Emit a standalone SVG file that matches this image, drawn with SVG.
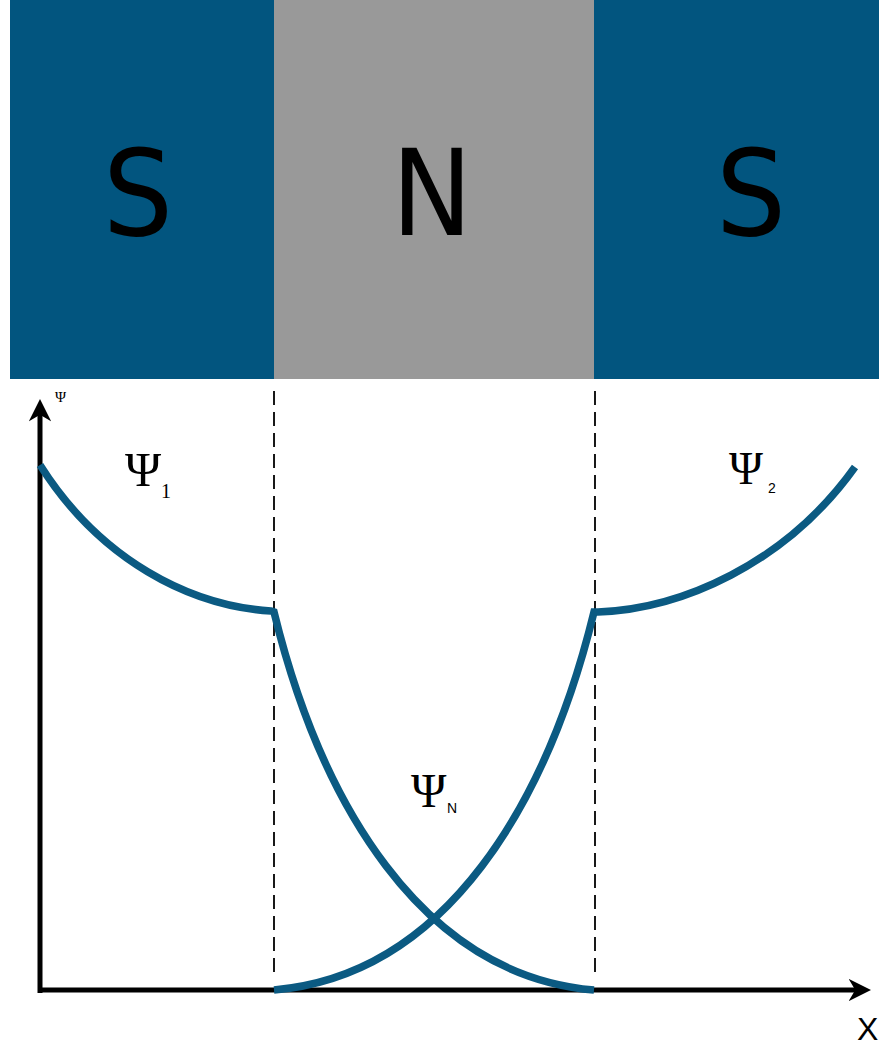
<svg xmlns="http://www.w3.org/2000/svg" width="879" height="1046" viewBox="0 0 879 1046">
<defs>
<style>
.sc{fill:#02557f}
.nm{fill:#999999}
.big{font-family:"DejaVu Sans","Liberation Sans",sans-serif;font-size:120px;fill:#000;text-anchor:middle}
.psi{font-family:"Liberation Serif","DejaVu Serif",serif;fill:#000}
.sub{font-family:"Liberation Sans","DejaVu Sans",sans-serif;fill:#000}
.curve{fill:none;stroke:#0b5a82;stroke-width:7.5;stroke-linejoin:miter}
.axis{fill:none;stroke:#000;stroke-width:5}
.dash{fill:none;stroke:#000;stroke-width:1.8;stroke-dasharray:14 7}
</style>
<marker id="arr" viewBox="0 0 10 10" refX="6" refY="5" markerWidth="4.5" markerHeight="4.5" orient="auto" markerUnits="strokeWidth">
<path d="M0,0 L10,5 L0,10 L3,5 Z" fill="#000"/>
</marker>
</defs>
<rect width="879" height="1046" fill="#fff"/>
<g id="S-left"><rect class="sc" x="10" y="0" width="264" height="379"/><text class="big" x="138" y="235" transform="translate(138 0) scale(0.92 1) translate(-138 0)">S</text></g>
<g id="N-middle"><rect class="nm" x="274" y="0" width="320" height="379"/><text class="big" x="432" y="235" transform="translate(432 0) scale(0.9 1) translate(-432 0)">N</text></g>
<g id="S-right"><rect class="sc" x="594" y="0" width="285" height="379"/><text class="big" x="751" y="235" transform="translate(751 0) scale(0.92 1) translate(-751 0)">S</text></g>
<g id="axes">
<path class="axis" d="M40,993 L40,408" marker-end="url(#arr)"/>
<path class="axis" d="M38,990 L862,990" marker-end="url(#arr)"/>
<text class="psi" x="55" y="402" font-size="15">Ψ</text>
<text class="sub" x="857" y="1040" font-size="32">X</text>
</g>
<g id="boundaries">
<line class="dash" x1="274" y1="391" x2="274" y2="975"/>
<line class="dash" x1="595" y1="391" x2="595" y2="975"/>
</g>
<g id="curves">
<path class="curve" d="M40,465 C100,560 190,606 271,611 L274,612 C320,800 420,975 594,990"/>
<path class="curve" d="M274,990 C448,975 548,800 594,612 L598,612 C680,609 785,565 855,467"/>
</g>
<g id="labels">
<text class="psi" x="125" y="486" font-size="49">Ψ</text>
<text class="psi" x="161" y="498" font-size="20">1</text>
<text class="psi" x="729" y="484" font-size="46">Ψ</text>
<text class="sub" x="768" y="493" font-size="14">2</text>
<text class="psi" x="411" y="807" font-size="48">Ψ</text>
<text class="sub" x="447" y="813" font-size="14">N</text>
</g>
</svg>
